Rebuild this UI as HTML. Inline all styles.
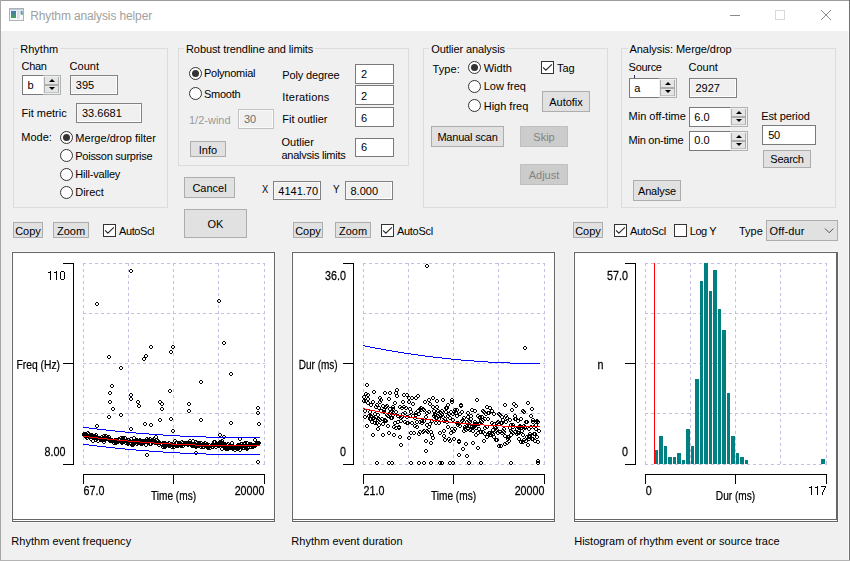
<!DOCTYPE html>
<html><head><meta charset="utf-8"><title>Rhythm analysis helper</title>
<style>
html,body{margin:0;padding:0;}
body{width:850px;height:561px;overflow:hidden;background:#f0f0f0;position:relative;font-family:"Liberation Sans",sans-serif;font-size:11px;color:#000;}
.t{position:absolute;white-space:nowrap;font-family:"Liberation Sans",sans-serif;}
.abs,.grp,.btn,.ed,.rad,.chk,.spin,.spined,.spb,.panel,.combo{position:absolute;box-sizing:border-box;}
.grp{border:1px solid #dcdcdc;}
.btn{background:#e1e1e1;border:1px solid #adadad;text-align:center;font-size:11px;overflow:hidden;display:flex;align-items:center;justify-content:center;white-space:nowrap;}
.btn.dis{background:#cccccc;border-color:#bfbfbf;color:#838383;}
.ed{background:#fff;border:1px solid #7a7a7a;}
.ed.ro{background:#f0f0f0;border:1px solid #828282;box-shadow:inset -1px -1px 0 #fff, inset 1px 1px 0 #f7f7f7;}
.ed.di{background:#f0f0f0;border:1px solid #c2c2c2;box-shadow:inset 0 0 0 1px #fafafa;}
.rad{width:13px;height:13px;border:1px solid #333;border-radius:50%;background:#fff;}
.rad i{position:absolute;left:2px;top:2px;width:7px;height:7px;border-radius:50%;background:#333;display:block;}
.chk{width:13px;height:13px;border:1px solid #333;background:#fff;}
.spin{border:1px solid #adb2b5;background:#f0f0f0;}
.spined{position:absolute;box-sizing:border-box;background:#fff;border:1px solid #7a7a7a;border-right:none;}
.spb{background:#e5e5e5;border-left:1px solid #adadad;border-right:1px solid #adadad;}
.spb b{position:absolute;left:50%;top:50%;width:0;height:0;border-left:3px solid transparent;border-right:3px solid transparent;margin-left:-3px;}
.spb b.up{border-bottom:3.3px solid #000;margin-top:-1.6px;}
.spb b.dn{border-top:3.3px solid #000;margin-top:-1.8px;}
.panel{background:#fff;border:1px solid #666;box-shadow:0 0 0 1px #f6f6f6;}
.panel:after{content:'';position:absolute;left:0;right:0;bottom:1px;height:1px;background:#666;}
.combo{background:#e1e1e1;border:1px solid #adadad;}
svg{position:absolute;overflow:visible;}
svg.ch{will-change:transform;}
svg text{font-family:"Liberation Sans",sans-serif;stroke:#000;stroke-width:0.25px;}
</style></head><body>

<div class="abs" style="left:0;top:0;width:850px;height:31px;background:#fff"></div>
<div class="abs" style="left:0;top:0;width:850px;height:1px;background:#9c9c9c"></div>
<div class="abs" style="left:0;top:0;width:1px;height:561px;background:#a6a6a6"></div>
<div class="abs" style="left:849px;top:0;width:1px;height:561px;background:#707070"></div>
<div class="abs" style="left:848px;top:31px;width:1px;height:529px;background:#fafafa"></div>
<div class="abs" style="left:0;top:560px;width:850px;height:1px;background:#b4b4b4"></div>
<svg style="left:9px;top:8px" width="15" height="13" viewBox="0 0 15 13">
<rect x="0.5" y="0.5" width="14" height="12" fill="#f6f8fa" stroke="#a9b1b9"/>
<rect x="1" y="1" width="13" height="1.4" fill="#c3ccd6"/>
<rect x="2" y="3" width="5" height="1" fill="#4678b4"/><rect x="2" y="4" width="5" height="1" fill="#467fa6"/><rect x="2" y="5" width="5" height="1" fill="#468698"/><rect x="2" y="6" width="5" height="1" fill="#458d8a"/><rect x="2" y="7" width="5" height="1" fill="#45947c"/><rect x="2" y="8" width="5" height="1" fill="#459b6c"/><rect x="2" y="9" width="5" height="1" fill="#45a25c"/>
<rect x="8" y="3" width="2.6" height="8" fill="#dcdcdc"/>
<rect x="11.6" y="3" width="2" height="3.4" fill="#5d8fc0"/>
<rect x="12.4" y="5" width="1.2" height="2" fill="#69b06c"/>
</svg>
<span class="t" style="left:30.20px;top:9.54px;font-size:12px;line-height:12px;color:#a0a0a0;letter-spacing:-0.130px;">Rhythm analysis helper</span>
<svg style="left:700px;top:0" width="150" height="31" viewBox="0 0 150 31" shape-rendering="crispEdges">
<rect x="30" y="15" width="10" height="1" fill="#8a8a8a"/>
<rect x="75.5" y="10.5" width="9" height="9" fill="none" stroke="#d9d9d9"/>
<g shape-rendering="auto"><path d="M121 10 L131 20 M131 10 L121 20" stroke="#8a8a8a" stroke-width="1" fill="none"/></g>
</svg>
<div class="grp" style="left:13px;top:48px;width:155px;height:160px;"></div>
<span class="t" style="left:18.3px;top:42px;height:14px;line-height:14px;font-size:11px;background:#f0f0f0;padding:0 2px;letter-spacing:0px">Rhythm</span>
<span class="t" style="left:21.50px;top:60.99px;font-size:11px;line-height:11px;color:#000;letter-spacing:-0.300px;">Chan</span>
<span class="t" style="left:69.60px;top:60.99px;font-size:11px;line-height:11px;color:#000;">Count</span>
<div class="spin" style="left:22px;top:75px;width:39px;height:20px;"></div>
<div class="spined" style="left:22px;top:75px;width:21px;height:20px"></div>
<div class="spb" style="left:44px;top:77px;width:15px;height:8px;border-bottom:1px solid #adadad"><b class="up"></b></div>
<div class="spb" style="left:44px;top:85px;width:15px;height:8px;border-top:1px solid #adadad;border-bottom:1px solid #c4c4c4"><b class="dn"></b></div>
<span class="t" style="left:27.50px;top:80.19px;font-size:11px;line-height:11px;color:#000;">b</span>
<div class="ed ro" style="left:70px;top:75px;width:48px;height:20px;"></div>
<span class="t" style="left:75.80px;top:80.19px;font-size:11px;line-height:11px;color:#000;">395</span>
<span class="t" style="left:21.50px;top:108.09px;font-size:11px;line-height:11px;color:#000;">Fit metric</span>
<div class="ed ro" style="left:76px;top:103px;width:66px;height:20px;"></div>
<span class="t" style="left:82.00px;top:108.09px;font-size:11px;line-height:11px;color:#000;">33.6681</span>
<span class="t" style="left:21.30px;top:132.49px;font-size:11px;line-height:11px;color:#000;">Mode:</span>
<div class="rad" style="left:59.5px;top:131.0px"><i></i></div>
<span class="t" style="left:75.30px;top:133.29px;font-size:11px;line-height:11px;color:#000;letter-spacing:0.030px;">Merge/drop filter</span>
<div class="rad" style="left:59.5px;top:149.2px"></div>
<span class="t" style="left:75.30px;top:150.69px;font-size:11px;line-height:11px;color:#000;letter-spacing:-0.270px;">Poisson surprise</span>
<div class="rad" style="left:59.5px;top:167.5px"></div>
<span class="t" style="left:75.30px;top:168.99px;font-size:11px;line-height:11px;color:#000;letter-spacing:-0.200px;">Hill-valley</span>
<div class="rad" style="left:59.5px;top:185.5px"></div>
<span class="t" style="left:75.30px;top:186.99px;font-size:11px;line-height:11px;color:#000;letter-spacing:-0.050px;">Direct</span>
<div class="grp" style="left:178px;top:48px;width:231px;height:118px;"></div>
<span class="t" style="left:184px;top:42px;height:14px;line-height:14px;font-size:11px;background:#f0f0f0;padding:0 2px;letter-spacing:-0.09px">Robust trendline and limits</span>
<div class="rad" style="left:188.8px;top:66.7px"><i></i></div>
<span class="t" style="left:204.00px;top:68.49px;font-size:11px;line-height:11px;color:#000;letter-spacing:-0.260px;">Polynomial</span>
<div class="rad" style="left:188.8px;top:87.3px"></div>
<span class="t" style="left:204.00px;top:88.99px;font-size:11px;line-height:11px;color:#000;letter-spacing:-0.250px;">Smooth</span>
<span class="t" style="left:189.00px;top:114.69px;font-size:11px;line-height:11px;color:#9a9a9a;">1/2-wind</span>
<div class="ed di" style="left:238px;top:109px;width:36px;height:20px;"></div>
<span class="t" style="left:244.00px;top:114.49px;font-size:11px;line-height:11px;color:#6d6d6d;">30</span>
<div class="btn" style="left:190px;top:141px;width:36px;height:16px;"><span style="letter-spacing:0px;position:relative;top:0.5px">Info</span></div>
<span class="t" style="left:282.30px;top:70.49px;font-size:11px;line-height:11px;color:#000;letter-spacing:-0.150px;">Poly degree</span>
<span class="t" style="left:282.30px;top:92.49px;font-size:11px;line-height:11px;color:#000;letter-spacing:0.200px;">Iterations</span>
<span class="t" style="left:282.30px;top:113.99px;font-size:11px;line-height:11px;color:#000;">Fit outlier</span>
<span class="t" style="left:281.50px;top:137.49px;font-size:11px;line-height:11px;color:#000;">Outlier</span>
<div class="abs" style="left:281px;top:150px;width:70px;height:9.1px;overflow:hidden"><span class="t" style="left:0.5px;top:0.4px;font-size:11px;line-height:11px;letter-spacing:-0.26px">analysis limits</span></div>
<div class="ed" style="left:355px;top:64px;width:39px;height:20px;"></div>
<span class="t" style="left:361.00px;top:68.99px;font-size:11px;line-height:11px;color:#000;">2</span>
<div class="ed" style="left:355px;top:85px;width:39px;height:20px;"></div>
<span class="t" style="left:361.00px;top:90.79px;font-size:11px;line-height:11px;color:#000;">2</span>
<div class="ed" style="left:355px;top:107px;width:39px;height:20px;"></div>
<span class="t" style="left:361.00px;top:112.79px;font-size:11px;line-height:11px;color:#000;">6</span>
<div class="ed" style="left:355px;top:138px;width:39px;height:19px;"></div>
<span class="t" style="left:361.00px;top:142.19px;font-size:11px;line-height:11px;color:#000;">6</span>
<div class="btn" style="left:184px;top:177px;width:51px;height:21px;"><span style="letter-spacing:0px;position:relative;top:0px">Cancel</span></div>
<div class="btn" style="left:184px;top:209px;width:63px;height:29px;"><span style="letter-spacing:0px;position:relative;top:0px">OK</span></div>
<span class="t" style="left:261.80px;top:184.19px;font-size:11px;line-height:11px;color:#000;transform-origin:0 9.31px;transform:scale(0.85,1);">X</span>
<div class="ed ro" style="left:273px;top:181px;width:48px;height:19px;"></div>
<span class="t" style="left:278.30px;top:186.19px;font-size:11px;line-height:11px;color:#000;">4141.70</span>
<span class="t" style="left:333.00px;top:184.19px;font-size:11px;line-height:11px;color:#000;transform-origin:0 9.31px;transform:scale(0.9,1);">Y</span>
<div class="ed ro" style="left:345px;top:181px;width:48px;height:19px;"></div>
<span class="t" style="left:350.50px;top:186.19px;font-size:11px;line-height:11px;color:#000;">8.000</span>
<div class="grp" style="left:423px;top:48px;width:185px;height:160px;"></div>
<span class="t" style="left:429.3px;top:42px;height:14px;line-height:14px;font-size:11px;background:#f0f0f0;padding:0 2px;letter-spacing:-0.1px">Outlier analysis</span>
<span class="t" style="left:432.50px;top:63.99px;font-size:11px;line-height:11px;color:#000;letter-spacing:0.100px;">Type:</span>
<div class="rad" style="left:468.0px;top:61.099999999999994px"><i></i></div>
<span class="t" style="left:483.70px;top:62.79px;font-size:11px;line-height:11px;color:#000;">Width</span>
<div class="rad" style="left:468.0px;top:79.5px"></div>
<span class="t" style="left:483.70px;top:80.99px;font-size:11px;line-height:11px;color:#000;">Low freq</span>
<div class="rad" style="left:468.0px;top:99.3px"></div>
<span class="t" style="left:483.70px;top:100.99px;font-size:11px;line-height:11px;color:#000;">High freq</span>
<div class="chk" style="left:541px;top:61px"><svg width="13" height="13" viewBox="0 0 13 13" style="position:absolute;left:-1px;top:-1px"><path d="M2.1 6.4 L4.8 9.2 L10.9 3.3" fill="none" stroke="#222" stroke-width="1.05"/></svg></div>
<span class="t" style="left:557.00px;top:62.99px;font-size:11px;line-height:11px;color:#000;">Tag</span>
<div class="btn" style="left:542px;top:91px;width:48px;height:21px;"><span style="letter-spacing:0px;position:relative;top:0.5px">Autofix</span></div>
<div class="btn" style="left:431px;top:126px;width:73px;height:21px;"><span style="letter-spacing:-0.2px;position:relative;top:0px">Manual scan</span></div>
<div class="btn dis" style="left:520px;top:126px;width:48px;height:21px;"><span style="letter-spacing:0px;position:relative;top:0px">Skip</span></div>
<div class="btn dis" style="left:520px;top:164px;width:48px;height:21px;"><span style="letter-spacing:0px;position:relative;top:0px">Adjust</span></div>
<div class="grp" style="left:621px;top:48px;width:215px;height:160px;"></div>
<span class="t" style="left:627.5px;top:42px;height:14px;line-height:14px;font-size:11px;background:#f0f0f0;padding:0 2px;letter-spacing:-0.06px">Analysis: Merge/drop</span>
<span class="t" style="left:628.60px;top:62.19px;font-size:11px;line-height:11px;color:#000;letter-spacing:-0.300px;">Source</span>
<span class="t" style="left:688.50px;top:62.19px;font-size:11px;line-height:11px;color:#000;">Count</span>
<div class="spin" style="left:629px;top:78px;width:48px;height:20px;"></div>
<div class="spined" style="left:629px;top:78px;width:30px;height:20px"></div>
<div class="spb" style="left:660px;top:80px;width:15px;height:8px;border-bottom:1px solid #adadad"><b class="up"></b></div>
<div class="spb" style="left:660px;top:88px;width:15px;height:8px;border-top:1px solid #adadad;border-bottom:1px solid #c4c4c4"><b class="dn"></b></div>
<span class="t" style="left:634.30px;top:83.19px;font-size:11px;line-height:11px;color:#000;">a</span>
<div class="abs" style="left:634px;top:75px;width:1px;height:3px;background:#2a2a55"></div>
<div class="ed ro" style="left:689px;top:78px;width:48px;height:20px;"></div>
<span class="t" style="left:695.50px;top:82.99px;font-size:11px;line-height:11px;color:#000;">2927</span>
<span class="t" style="left:628.60px;top:111.29px;font-size:11px;line-height:11px;color:#000;">Min off-time</span>
<div class="spin" style="left:689px;top:107px;width:59px;height:20px;"></div>
<div class="spined" style="left:689px;top:107px;width:41px;height:20px"></div>
<div class="spb" style="left:731px;top:109px;width:15px;height:8px;border-bottom:1px solid #adadad"><b class="up"></b></div>
<div class="spb" style="left:731px;top:117px;width:15px;height:8px;border-top:1px solid #adadad;border-bottom:1px solid #c4c4c4"><b class="dn"></b></div>
<span class="t" style="left:694.30px;top:111.69px;font-size:11px;line-height:11px;color:#000;">6.0</span>
<span class="t" style="left:628.60px;top:134.99px;font-size:11px;line-height:11px;color:#000;letter-spacing:-0.250px;">Min on-time</span>
<div class="spin" style="left:689px;top:131px;width:59px;height:20px;"></div>
<div class="spined" style="left:689px;top:131px;width:41px;height:20px"></div>
<div class="spb" style="left:731px;top:133px;width:15px;height:8px;border-bottom:1px solid #adadad"><b class="up"></b></div>
<div class="spb" style="left:731px;top:141px;width:15px;height:8px;border-top:1px solid #adadad;border-bottom:1px solid #c4c4c4"><b class="dn"></b></div>
<span class="t" style="left:694.30px;top:135.49px;font-size:11px;line-height:11px;color:#000;">0.0</span>
<span class="t" style="left:761.20px;top:111.29px;font-size:11px;line-height:11px;color:#000;letter-spacing:-0.100px;">Est period</span>
<div class="ed" style="left:762px;top:125px;width:54px;height:20px;"></div>
<span class="t" style="left:768.30px;top:130.19px;font-size:11px;line-height:11px;color:#000;letter-spacing:-0.300px;">50</span>
<div class="btn" style="left:763px;top:150px;width:48px;height:18px;"><span style="letter-spacing:-0.25px;position:relative;top:0px">Search</span></div>
<div class="btn" style="left:633px;top:180px;width:48px;height:21px;"><span style="letter-spacing:-0.15px;position:relative;top:0px">Analyse</span></div>
<div class="btn" style="left:13px;top:222px;width:30px;height:16px;"><span style="letter-spacing:0px;position:relative;top:0.5px">Copy</span></div>
<div class="btn" style="left:53px;top:222px;width:36px;height:16px;"><span style="letter-spacing:0px;position:relative;top:0.5px">Zoom</span></div>
<div class="chk" style="left:103px;top:224px"><svg width="13" height="13" viewBox="0 0 13 13" style="position:absolute;left:-1px;top:-1px"><path d="M2.1 6.4 L4.8 9.2 L10.9 3.3" fill="none" stroke="#222" stroke-width="1.05"/></svg></div>
<span class="t" style="left:119.00px;top:226.49px;font-size:11px;line-height:11px;color:#000;letter-spacing:-0.400px;">AutoScl</span>
<div class="btn" style="left:293px;top:222px;width:30px;height:16px;"><span style="letter-spacing:0px;position:relative;top:0.5px">Copy</span></div>
<div class="btn" style="left:335px;top:222px;width:36px;height:16px;"><span style="letter-spacing:0px;position:relative;top:0.5px">Zoom</span></div>
<div class="chk" style="left:381px;top:224px"><svg width="13" height="13" viewBox="0 0 13 13" style="position:absolute;left:-1px;top:-1px"><path d="M2.1 6.4 L4.8 9.2 L10.9 3.3" fill="none" stroke="#222" stroke-width="1.05"/></svg></div>
<span class="t" style="left:397.00px;top:226.49px;font-size:11px;line-height:11px;color:#000;letter-spacing:-0.300px;">AutoScl</span>
<div class="btn" style="left:573px;top:222px;width:30px;height:16px;"><span style="letter-spacing:0px;position:relative;top:0.5px">Copy</span></div>
<div class="chk" style="left:614px;top:224px"><svg width="13" height="13" viewBox="0 0 13 13" style="position:absolute;left:-1px;top:-1px"><path d="M2.1 6.4 L4.8 9.2 L10.9 3.3" fill="none" stroke="#222" stroke-width="1.05"/></svg></div>
<span class="t" style="left:630.00px;top:226.49px;font-size:11px;line-height:11px;color:#000;letter-spacing:-0.300px;">AutoScl</span>
<div class="chk" style="left:674px;top:224px"></div>
<span class="t" style="left:689.70px;top:226.49px;font-size:11px;line-height:11px;color:#000;letter-spacing:-0.400px;">Log Y</span>
<span class="t" style="left:739.00px;top:226.49px;font-size:11px;line-height:11px;color:#000;">Type</span>
<div class="combo" style="left:766px;top:220px;width:72px;height:21px;"></div>
<span class="t" style="left:769.60px;top:226.49px;font-size:11px;line-height:11px;color:#000;letter-spacing:0.150px;">Off-dur</span>
<svg style="left:824px;top:227px" width="11" height="8" viewBox="0 0 11 8"><path d="M1 1.5 L5.2 5.7 L9.4 1.5" fill="none" stroke="#505050" stroke-width="1"/></svg>
<div class="panel" style="left:12px;top:252px;width:263px;height:270px;"></div>
<div class="panel" style="left:292px;top:252px;width:263px;height:270px;"></div>
<div class="panel" style="left:574px;top:252px;width:264px;height:270px;"></div>
<div class="abs" style="left:836px;top:252px;width:1px;height:268px;background:#666"></div>
<span class="t" style="left:11.30px;top:536.49px;font-size:11px;line-height:11px;color:#000;letter-spacing:0.030px;">Rhythm event frequency</span>
<span class="t" style="left:291.30px;top:536.49px;font-size:11px;line-height:11px;color:#000;letter-spacing:0.030px;">Rhythm event duration</span>
<span class="t" style="left:574.20px;top:536.49px;font-size:11px;line-height:11px;color:#000;">Histogram of rhythm event or source trace</span>
<svg class="ch" style="left:0;top:0" width="850" height="561" viewBox="0 0 850 561"><g shape-rendering="crispEdges"><line x1="83.5" y1="263" x2="83.5" y2="465" stroke="#c0c0e4" stroke-dasharray="3 3"/><line x1="128.5" y1="263" x2="128.5" y2="465" stroke="#c0c0e4" stroke-dasharray="3 3"/><line x1="173.5" y1="263" x2="173.5" y2="465" stroke="#c0c0e4" stroke-dasharray="3 3"/><line x1="218.5" y1="263" x2="218.5" y2="465" stroke="#c0c0e4" stroke-dasharray="3 3"/><line x1="264.5" y1="263" x2="264.5" y2="465" stroke="#c0c0e4" stroke-dasharray="3 3"/><line x1="83" y1="263.5" x2="265" y2="263.5" stroke="#c0c0e4" stroke-dasharray="3 3"/><line x1="83" y1="313.5" x2="265" y2="313.5" stroke="#c0c0e4" stroke-dasharray="3 3"/><line x1="83" y1="363.5" x2="265" y2="363.5" stroke="#c0c0e4" stroke-dasharray="3 3"/><line x1="83" y1="413.5" x2="265" y2="413.5" stroke="#c0c0e4" stroke-dasharray="3 3"/><line x1="83" y1="464.5" x2="265" y2="464.5" stroke="#c0c0e4" stroke-dasharray="3 3"/></g><g stroke="#000" fill="none" shape-rendering="crispEdges"><line x1="73.5" y1="263" x2="73.5" y2="465"/><line x1="63" y1="263.5" x2="74" y2="263.5"/><line x1="63" y1="363.5" x2="74" y2="363.5"/><line x1="63" y1="464.5" x2="74" y2="464.5"/><line x1="83" y1="474.5" x2="265" y2="474.5"/><line x1="83.5" y1="474" x2="83.5" y2="484"/><line x1="173.5" y1="474" x2="173.5" y2="484"/><line x1="264.5" y1="474" x2="264.5" y2="484"/></g><g fill="#000" shape-rendering="crispEdges"><rect x="50" y="271" width="1" height="9"/><rect x="48" y="272" width="2" height="1"/><rect x="56" y="271" width="1" height="9"/><rect x="54" y="272" width="2" height="1"/><rect x="61" y="271" width="3" height="1"/><rect x="60" y="272" width="1" height="7"/><rect x="64" y="272" width="1" height="7"/><rect x="61" y="279" width="3" height="1"/></g><text x="0" y="0" font-size="12.5" text-anchor="start" transform="translate(16.5,369) scale(0.825,1)" fill="#000">Freq (Hz)</text><text x="0" y="0" font-size="12.5" text-anchor="end" transform="translate(65.5,456) scale(0.86,1)" fill="#000">8.00</text><text x="0" y="0" font-size="12.5" text-anchor="start" transform="translate(83.5,495) scale(0.86,1)" fill="#000">67.0</text><text x="0" y="0" font-size="12.5" text-anchor="end" transform="translate(264.5,495) scale(0.86,1)" fill="#000">20000</text><text x="0" y="0" font-size="12.5" text-anchor="middle" transform="translate(173.5,500) scale(0.81,1)" fill="#000">Time (ms)</text><path fill="none" stroke="#000" stroke-width="1" shape-rendering="crispEdges" d="M130 269.5h2M129.5 270v2M132.5 270v2M130 272.5h2M96 302.5h2M95.5 303v2M98.5 303v2M96 305.5h2M218 299.5h2M217.5 300v2M220.5 300v2M218 302.5h2M223 341.5h2M222.5 342v2M225.5 342v2M223 344.5h2M150 345.5h2M149.5 346v2M152.5 346v2M150 348.5h2M172 345.5h2M171.5 346v2M174.5 346v2M172 348.5h2M170 350.5h2M169.5 351v2M172.5 351v2M170 353.5h2M145 354.5h2M144.5 355v2M147.5 355v2M145 357.5h2M143 357.5h2M142.5 358v2M145.5 358v2M143 360.5h2M108 355.5h2M107.5 356v2M110.5 356v2M108 358.5h2M120 366.5h2M119.5 367v2M122.5 367v2M120 369.5h2M230 372.5h2M229.5 373v2M232.5 373v2M230 375.5h2M200 380.5h2M199.5 381v2M202.5 381v2M200 383.5h2M111 384.5h2M110.5 385v2M113.5 385v2M111 387.5h2M109 391.5h2M108.5 392v2M111.5 392v2M109 394.5h2M169 389.5h2M168.5 390v2M171.5 390v2M169 392.5h2M130 393.5h2M129.5 394v2M132.5 394v2M130 396.5h2M130 397.5h2M129.5 398v2M132.5 398v2M130 400.5h2M109 400.5h2M108.5 401v2M111.5 401v2M109 403.5h2M112 407.5h2M111.5 408v2M114.5 408v2M112 410.5h2M108 415.5h2M107.5 416v2M110.5 416v2M108 418.5h2M120 413.5h2M119.5 414v2M122.5 414v2M120 416.5h2M96 424.5h2M95.5 425v2M98.5 425v2M96 427.5h2M137 400.5h2M136.5 401v2M139.5 401v2M137 403.5h2M138 404.5h2M137.5 405v2M140.5 405v2M138 407.5h2M130 427.5h2M129.5 428v2M132.5 428v2M130 430.5h2M144 422.5h2M143.5 423v2M146.5 423v2M144 425.5h2M150 423.5h2M149.5 424v2M152.5 424v2M150 426.5h2M159 418.5h2M158.5 419v2M161.5 419v2M159 421.5h2M159 400.5h2M158.5 401v2M161.5 401v2M159 403.5h2M161 402.5h2M160.5 403v2M163.5 403v2M161 405.5h2M161 407.5h2M160.5 408v2M163.5 408v2M161 410.5h2M170 417.5h2M169.5 418v2M172.5 418v2M170 420.5h2M172 429.5h2M171.5 430v2M174.5 430v2M172 432.5h2M188 402.5h2M187.5 403v2M190.5 403v2M188 405.5h2M188 409.5h2M187.5 410v2M190.5 410v2M188 412.5h2M200 418.5h2M199.5 419v2M202.5 419v2M200 421.5h2M230 421.5h2M229.5 422v2M232.5 422v2M230 424.5h2M219 433.5h2M218.5 434v2M221.5 434v2M219 436.5h2M223 435.5h2M222.5 436v2M225.5 436v2M223 438.5h2M239 437.5h2M238.5 438v2M241.5 438v2M239 440.5h2M257 406.5h2M256.5 407v2M259.5 407v2M257 409.5h2M257 411.5h2M256.5 412v2M259.5 412v2M257 414.5h2M258 422.5h2M257.5 423v2M260.5 423v2M258 425.5h2M146 453.5h2M145.5 454v2M148.5 454v2M146 456.5h2M195 451.5h2M194.5 452v2M197.5 452v2M195 454.5h2M257 460.5h2M256.5 461v2M259.5 461v2M257 463.5h2M83 433.5h2M82.5 434v2M85.5 434v2M83 436.5h2M83 433.5h2M82.5 434v2M85.5 434v2M83 436.5h2M83 432.5h2M82.5 433v2M85.5 433v2M83 435.5h2M84 433.5h2M83.5 434v2M86.5 434v2M84 436.5h2M84 433.5h2M83.5 434v2M86.5 434v2M84 436.5h2M84 432.5h2M83.5 433v2M86.5 433v2M84 435.5h2M85 435.5h2M84.5 436v2M87.5 436v2M85 438.5h2M85 432.5h2M84.5 433v2M87.5 433v2M85 435.5h2M86 436.5h2M85.5 437v2M88.5 437v2M86 439.5h2M86 434.5h2M85.5 435v2M88.5 435v2M86 437.5h2M86 434.5h2M85.5 435v2M88.5 435v2M86 437.5h2M87 434.5h2M86.5 435v2M89.5 435v2M87 437.5h2M87 431.5h2M86.5 432v2M89.5 432v2M87 434.5h2M88 432.5h2M87.5 433v2M90.5 433v2M88 435.5h2M88 434.5h2M87.5 435v2M90.5 435v2M88 437.5h2M89 434.5h2M88.5 435v2M91.5 435v2M89 437.5h2M89 433.5h2M88.5 434v2M91.5 434v2M89 436.5h2M90 435.5h2M89.5 436v2M92.5 436v2M90 438.5h2M90 434.5h2M89.5 435v2M92.5 435v2M90 437.5h2M90 437.5h2M89.5 438v2M92.5 438v2M90 440.5h2M91 433.5h2M90.5 434v2M93.5 434v2M91 436.5h2M91 434.5h2M90.5 435v2M93.5 435v2M91 437.5h2M92 434.5h2M91.5 435v2M94.5 435v2M92 437.5h2M92 439.5h2M91.5 440v2M94.5 440v2M92 442.5h2M93 435.5h2M92.5 436v2M95.5 436v2M93 438.5h2M93 435.5h2M92.5 436v2M95.5 436v2M93 438.5h2M93 434.5h2M92.5 435v2M95.5 435v2M93 437.5h2M94 434.5h2M93.5 435v2M96.5 435v2M94 437.5h2M95 435.5h2M94.5 436v2M97.5 436v2M95 438.5h2M95 438.5h2M94.5 439v2M97.5 439v2M95 441.5h2M95 433.5h2M94.5 434v2M97.5 434v2M95 436.5h2M96 437.5h2M95.5 438v2M98.5 438v2M96 440.5h2M96 436.5h2M95.5 437v2M98.5 437v2M96 439.5h2M97 436.5h2M96.5 437v2M99.5 437v2M97 439.5h2M97 439.5h2M96.5 440v2M99.5 440v2M97 442.5h2M97 436.5h2M96.5 437v2M99.5 437v2M97 439.5h2M98 436.5h2M97.5 437v2M100.5 437v2M98 439.5h2M98 436.5h2M97.5 437v2M100.5 437v2M98 439.5h2M99 437.5h2M98.5 438v2M101.5 438v2M99 440.5h2M100 437.5h2M99.5 438v2M102.5 438v2M100 440.5h2M100 437.5h2M99.5 438v2M102.5 438v2M100 440.5h2M100 438.5h2M99.5 439v2M102.5 439v2M100 441.5h2M101 435.5h2M100.5 436v2M103.5 436v2M101 438.5h2M101 437.5h2M100.5 438v2M103.5 438v2M101 440.5h2M102 438.5h2M101.5 439v2M104.5 439v2M102 441.5h2M102 436.5h2M101.5 437v2M104.5 437v2M102 439.5h2M103 440.5h2M102.5 441v2M105.5 441v2M103 443.5h2M103 434.5h2M102.5 435v2M105.5 435v2M103 437.5h2M103 437.5h2M102.5 438v2M105.5 438v2M103 440.5h2M104 438.5h2M103.5 439v2M106.5 439v2M104 441.5h2M105 437.5h2M104.5 438v2M107.5 438v2M105 440.5h2M105 437.5h2M104.5 438v2M107.5 438v2M105 440.5h2M105 434.5h2M104.5 435v2M107.5 435v2M105 437.5h2M106 436.5h2M105.5 437v2M108.5 437v2M106 439.5h2M106 436.5h2M105.5 437v2M108.5 437v2M106 439.5h2M107 436.5h2M106.5 437v2M109.5 437v2M107 439.5h2M108 438.5h2M107.5 439v2M110.5 439v2M108 441.5h2M108 435.5h2M107.5 436v2M110.5 436v2M108 438.5h2M108 437.5h2M107.5 438v2M110.5 438v2M108 440.5h2M109 439.5h2M108.5 440v2M111.5 440v2M109 442.5h2M109 439.5h2M108.5 440v2M111.5 440v2M109 442.5h2M110 439.5h2M109.5 440v2M112.5 440v2M110 442.5h2M110 438.5h2M109.5 439v2M112.5 439v2M110 441.5h2M111 438.5h2M110.5 439v2M113.5 439v2M111 441.5h2M111 438.5h2M110.5 439v2M113.5 439v2M111 441.5h2M112 439.5h2M111.5 440v2M114.5 440v2M112 442.5h2M112 439.5h2M111.5 440v2M114.5 440v2M112 442.5h2M113 439.5h2M112.5 440v2M115.5 440v2M113 442.5h2M113 441.5h2M112.5 442v2M115.5 442v2M113 444.5h2M114 440.5h2M113.5 441v2M116.5 441v2M114 443.5h2M114 438.5h2M113.5 439v2M116.5 439v2M114 441.5h2M114 438.5h2M113.5 439v2M116.5 439v2M114 441.5h2M115 438.5h2M114.5 439v2M117.5 439v2M115 441.5h2M115 441.5h2M114.5 442v2M117.5 442v2M115 444.5h2M116 440.5h2M115.5 441v2M118.5 441v2M116 443.5h2M116 438.5h2M115.5 439v2M118.5 439v2M116 441.5h2M117 440.5h2M116.5 441v2M119.5 441v2M117 443.5h2M118 438.5h2M117.5 439v2M120.5 439v2M118 441.5h2M118 438.5h2M117.5 439v2M120.5 439v2M118 441.5h2M118 437.5h2M117.5 438v2M120.5 438v2M118 440.5h2M119 438.5h2M118.5 439v2M121.5 439v2M119 441.5h2M120 436.5h2M119.5 437v2M122.5 437v2M120 439.5h2M120 439.5h2M119.5 440v2M122.5 440v2M120 442.5h2M121 441.5h2M120.5 442v2M123.5 442v2M121 444.5h2M121 440.5h2M120.5 441v2M123.5 441v2M121 443.5h2M122 436.5h2M121.5 437v2M124.5 437v2M122 439.5h2M122 437.5h2M121.5 438v2M124.5 438v2M122 440.5h2M122 439.5h2M121.5 440v2M124.5 440v2M122 442.5h2M123 439.5h2M122.5 440v2M125.5 440v2M123 442.5h2M123 440.5h2M122.5 441v2M125.5 441v2M123 443.5h2M124 436.5h2M123.5 437v2M126.5 437v2M124 439.5h2M125 441.5h2M124.5 442v2M127.5 442v2M125 444.5h2M125 439.5h2M124.5 440v2M127.5 440v2M125 442.5h2M125 441.5h2M124.5 442v2M127.5 442v2M125 444.5h2M126 440.5h2M125.5 441v2M128.5 441v2M126 443.5h2M127 442.5h2M126.5 443v2M129.5 443v2M127 445.5h2M127 438.5h2M126.5 439v2M129.5 439v2M127 441.5h2M127 441.5h2M126.5 442v2M129.5 442v2M127 444.5h2M128 438.5h2M127.5 439v2M130.5 439v2M128 441.5h2M128 438.5h2M127.5 439v2M130.5 439v2M128 441.5h2M129 439.5h2M128.5 440v2M131.5 440v2M129 442.5h2M129 441.5h2M128.5 442v2M131.5 442v2M129 444.5h2M130 442.5h2M129.5 443v2M132.5 443v2M130 445.5h2M130 437.5h2M129.5 438v2M132.5 438v2M130 440.5h2M131 443.5h2M130.5 444v2M133.5 444v2M131 446.5h2M131 440.5h2M130.5 441v2M133.5 441v2M131 443.5h2M132 442.5h2M131.5 443v2M134.5 443v2M132 445.5h2M132 443.5h2M131.5 444v2M134.5 444v2M132 446.5h2M133 442.5h2M132.5 443v2M135.5 443v2M133 445.5h2M133 436.5h2M132.5 437v2M135.5 437v2M133 439.5h2M134 439.5h2M133.5 440v2M136.5 440v2M134 442.5h2M134 440.5h2M133.5 441v2M136.5 441v2M134 443.5h2M135 439.5h2M134.5 440v2M137.5 440v2M135 442.5h2M136 439.5h2M135.5 440v2M138.5 440v2M136 442.5h2M136 442.5h2M135.5 443v2M138.5 443v2M136 445.5h2M136 438.5h2M135.5 439v2M138.5 439v2M136 441.5h2M137 440.5h2M136.5 441v2M139.5 441v2M137 443.5h2M137 441.5h2M136.5 442v2M139.5 442v2M137 444.5h2M138 439.5h2M137.5 440v2M140.5 440v2M138 442.5h2M139 440.5h2M138.5 441v2M141.5 441v2M139 443.5h2M139 438.5h2M138.5 439v2M141.5 439v2M139 441.5h2M140 441.5h2M139.5 442v2M142.5 442v2M140 444.5h2M140 442.5h2M139.5 443v2M142.5 443v2M140 445.5h2M140 439.5h2M139.5 440v2M142.5 440v2M140 442.5h2M141 442.5h2M140.5 443v2M143.5 443v2M141 445.5h2M141 440.5h2M140.5 441v2M143.5 441v2M141 443.5h2M142 441.5h2M141.5 442v2M144.5 442v2M142 444.5h2M142 439.5h2M141.5 440v2M144.5 440v2M142 442.5h2M143 439.5h2M142.5 440v2M145.5 440v2M143 442.5h2M143 440.5h2M142.5 441v2M145.5 441v2M143 443.5h2M144 440.5h2M143.5 441v2M146.5 441v2M144 443.5h2M144 440.5h2M143.5 441v2M146.5 441v2M144 443.5h2M145 440.5h2M144.5 441v2M147.5 441v2M145 443.5h2M145 443.5h2M144.5 444v2M147.5 444v2M145 446.5h2M146 440.5h2M145.5 441v2M148.5 441v2M146 443.5h2M146 437.5h2M145.5 438v2M148.5 438v2M146 440.5h2M147 438.5h2M146.5 439v2M149.5 439v2M147 441.5h2M148 440.5h2M147.5 441v2M150.5 441v2M148 443.5h2M148 438.5h2M147.5 439v2M150.5 439v2M148 441.5h2M149 439.5h2M148.5 440v2M151.5 440v2M149 442.5h2M149 442.5h2M148.5 443v2M151.5 443v2M149 445.5h2M149 437.5h2M148.5 438v2M151.5 438v2M149 440.5h2M150 442.5h2M149.5 443v2M152.5 443v2M150 445.5h2M150 439.5h2M149.5 440v2M152.5 440v2M150 442.5h2M151 439.5h2M150.5 440v2M153.5 440v2M151 442.5h2M151 440.5h2M150.5 441v2M153.5 441v2M151 443.5h2M152 438.5h2M151.5 439v2M154.5 439v2M152 441.5h2M153 437.5h2M152.5 438v2M155.5 438v2M153 440.5h2M153 439.5h2M152.5 440v2M155.5 440v2M153 442.5h2M153 437.5h2M152.5 438v2M155.5 438v2M153 440.5h2M154 441.5h2M153.5 442v2M156.5 442v2M154 444.5h2M155 440.5h2M154.5 441v2M157.5 441v2M155 443.5h2M155 435.5h2M154.5 436v2M157.5 436v2M155 438.5h2M156 441.5h2M155.5 442v2M158.5 442v2M156 444.5h2M156 438.5h2M155.5 439v2M158.5 439v2M156 441.5h2M157 441.5h2M156.5 442v2M159.5 442v2M157 444.5h2M157 439.5h2M156.5 440v2M159.5 440v2M157 442.5h2M158 443.5h2M157.5 444v2M160.5 444v2M158 446.5h2M158 441.5h2M157.5 442v2M160.5 442v2M158 444.5h2M159 441.5h2M158.5 442v2M161.5 442v2M159 444.5h2M159 441.5h2M158.5 442v2M161.5 442v2M159 444.5h2M160 442.5h2M159.5 443v2M162.5 443v2M160 445.5h2M160 442.5h2M159.5 443v2M162.5 443v2M160 445.5h2M161 442.5h2M160.5 443v2M163.5 443v2M161 445.5h2M161 442.5h2M160.5 443v2M163.5 443v2M161 445.5h2M162 441.5h2M161.5 442v2M164.5 442v2M162 444.5h2M162 445.5h2M161.5 446v2M164.5 446v2M162 448.5h2M163 441.5h2M162.5 442v2M165.5 442v2M163 444.5h2M163 444.5h2M162.5 445v2M165.5 445v2M163 447.5h2M164 441.5h2M163.5 442v2M166.5 442v2M164 444.5h2M164 445.5h2M163.5 446v2M166.5 446v2M164 448.5h2M165 443.5h2M164.5 444v2M167.5 444v2M165 446.5h2M165 444.5h2M164.5 445v2M167.5 445v2M165 447.5h2M166 442.5h2M165.5 443v2M168.5 443v2M166 445.5h2M166 443.5h2M165.5 444v2M168.5 444v2M166 446.5h2M167 442.5h2M166.5 443v2M169.5 443v2M167 445.5h2M168 441.5h2M167.5 442v2M170.5 442v2M168 444.5h2M168 444.5h2M167.5 445v2M170.5 445v2M168 447.5h2M169 444.5h2M168.5 445v2M171.5 445v2M169 447.5h2M169 444.5h2M168.5 445v2M171.5 445v2M169 447.5h2M169 443.5h2M168.5 444v2M171.5 444v2M169 446.5h2M170 443.5h2M169.5 444v2M172.5 444v2M170 446.5h2M171 442.5h2M170.5 443v2M173.5 443v2M171 445.5h2M171 445.5h2M170.5 446v2M173.5 446v2M171 448.5h2M172 443.5h2M171.5 444v2M174.5 444v2M172 446.5h2M172 444.5h2M171.5 445v2M174.5 445v2M172 447.5h2M173 445.5h2M172.5 446v2M175.5 446v2M173 448.5h2M173 443.5h2M172.5 444v2M175.5 444v2M173 446.5h2M174 439.5h2M173.5 440v2M176.5 440v2M174 442.5h2M174 443.5h2M173.5 444v2M176.5 444v2M174 446.5h2M175 441.5h2M174.5 442v2M177.5 442v2M175 444.5h2M176 444.5h2M175.5 445v2M178.5 445v2M176 447.5h2M176 441.5h2M175.5 442v2M178.5 442v2M176 444.5h2M177 443.5h2M176.5 444v2M179.5 444v2M177 446.5h2M177 444.5h2M176.5 445v2M179.5 445v2M177 447.5h2M178 441.5h2M177.5 442v2M180.5 442v2M178 444.5h2M178 443.5h2M177.5 444v2M180.5 444v2M178 446.5h2M178 443.5h2M177.5 444v2M180.5 444v2M178 446.5h2M179 443.5h2M178.5 444v2M181.5 444v2M179 446.5h2M179 442.5h2M178.5 443v2M181.5 443v2M179 445.5h2M180 444.5h2M179.5 445v2M182.5 445v2M180 447.5h2M181 440.5h2M180.5 441v2M183.5 441v2M181 443.5h2M181 443.5h2M180.5 444v2M183.5 444v2M181 446.5h2M182 444.5h2M181.5 445v2M184.5 445v2M182 447.5h2M182 441.5h2M181.5 442v2M184.5 442v2M182 444.5h2M183 442.5h2M182.5 443v2M185.5 443v2M183 445.5h2M184 441.5h2M183.5 442v2M186.5 442v2M184 444.5h2M184 442.5h2M183.5 443v2M186.5 443v2M184 445.5h2M184 442.5h2M183.5 443v2M186.5 443v2M184 445.5h2M185 442.5h2M184.5 443v2M187.5 443v2M185 445.5h2M185 441.5h2M184.5 442v2M187.5 442v2M185 444.5h2M186 442.5h2M185.5 443v2M188.5 443v2M186 445.5h2M186 441.5h2M185.5 442v2M188.5 442v2M186 444.5h2M187 442.5h2M186.5 443v2M189.5 443v2M187 445.5h2M187 443.5h2M186.5 444v2M189.5 444v2M187 446.5h2M188 442.5h2M187.5 443v2M190.5 443v2M188 445.5h2M189 439.5h2M188.5 440v2M191.5 440v2M189 442.5h2M189 441.5h2M188.5 442v2M191.5 442v2M189 444.5h2M190 443.5h2M189.5 444v2M192.5 444v2M190 446.5h2M190 441.5h2M189.5 442v2M192.5 442v2M190 444.5h2M191 443.5h2M190.5 444v2M193.5 444v2M191 446.5h2M191 444.5h2M190.5 445v2M193.5 445v2M191 447.5h2M192 444.5h2M191.5 445v2M194.5 445v2M192 447.5h2M192 439.5h2M191.5 440v2M194.5 440v2M192 442.5h2M193 443.5h2M192.5 444v2M195.5 444v2M193 446.5h2M193 442.5h2M192.5 443v2M195.5 443v2M193 445.5h2M194 444.5h2M193.5 445v2M196.5 445v2M194 447.5h2M195 440.5h2M194.5 441v2M197.5 441v2M195 443.5h2M195 445.5h2M194.5 446v2M197.5 446v2M195 448.5h2M196 441.5h2M195.5 442v2M198.5 442v2M196 444.5h2M196 444.5h2M195.5 445v2M198.5 445v2M196 447.5h2M196 443.5h2M195.5 444v2M198.5 444v2M196 446.5h2M197 444.5h2M196.5 445v2M199.5 445v2M197 447.5h2M198 441.5h2M197.5 442v2M200.5 442v2M198 444.5h2M198 442.5h2M197.5 443v2M200.5 443v2M198 445.5h2M198 441.5h2M197.5 442v2M200.5 442v2M198 444.5h2M199 443.5h2M198.5 444v2M201.5 444v2M199 446.5h2M200 441.5h2M199.5 442v2M202.5 442v2M200 444.5h2M200 445.5h2M199.5 446v2M202.5 446v2M200 448.5h2M201 444.5h2M200.5 445v2M203.5 445v2M201 447.5h2M201 443.5h2M200.5 444v2M203.5 444v2M201 446.5h2M202 445.5h2M201.5 446v2M204.5 446v2M202 448.5h2M203 445.5h2M202.5 446v2M205.5 446v2M203 448.5h2M203 443.5h2M202.5 444v2M205.5 444v2M203 446.5h2M203 442.5h2M202.5 443v2M205.5 443v2M203 445.5h2M204 441.5h2M203.5 442v2M206.5 442v2M204 444.5h2M205 444.5h2M204.5 445v2M207.5 445v2M205 447.5h2M205 443.5h2M204.5 444v2M207.5 444v2M205 446.5h2M206 442.5h2M205.5 443v2M208.5 443v2M206 445.5h2M206 445.5h2M205.5 446v2M208.5 446v2M206 448.5h2M206 443.5h2M205.5 444v2M208.5 444v2M206 446.5h2M207 446.5h2M206.5 447v2M209.5 447v2M207 449.5h2M208 443.5h2M207.5 444v2M210.5 444v2M208 446.5h2M208 445.5h2M207.5 446v2M210.5 446v2M208 448.5h2M209 446.5h2M208.5 447v2M211.5 447v2M209 449.5h2M209 446.5h2M208.5 447v2M211.5 447v2M209 449.5h2M210 444.5h2M209.5 445v2M212.5 445v2M210 447.5h2M210 444.5h2M209.5 445v2M212.5 445v2M210 447.5h2M211 445.5h2M210.5 446v2M213.5 446v2M211 448.5h2M211 443.5h2M210.5 444v2M213.5 444v2M211 446.5h2M212 445.5h2M211.5 446v2M214.5 446v2M212 448.5h2M213 443.5h2M212.5 444v2M215.5 444v2M213 446.5h2M213 440.5h2M212.5 441v2M215.5 441v2M213 443.5h2M213 443.5h2M212.5 444v2M215.5 444v2M213 446.5h2M214 440.5h2M213.5 441v2M216.5 441v2M214 443.5h2M215 443.5h2M214.5 444v2M217.5 444v2M215 446.5h2M215 445.5h2M214.5 446v2M217.5 446v2M215 448.5h2M216 442.5h2M215.5 443v2M218.5 443v2M216 445.5h2M216 442.5h2M215.5 443v2M218.5 443v2M216 445.5h2M217 443.5h2M216.5 444v2M219.5 444v2M217 446.5h2M217 443.5h2M216.5 444v2M219.5 444v2M217 446.5h2M218 444.5h2M217.5 445v2M220.5 445v2M218 447.5h2M218 443.5h2M217.5 444v2M220.5 444v2M218 446.5h2M219 440.5h2M218.5 441v2M221.5 441v2M219 443.5h2M220 442.5h2M219.5 443v2M222.5 443v2M220 445.5h2M220 440.5h2M219.5 441v2M222.5 441v2M220 443.5h2M221 439.5h2M220.5 440v2M223.5 440v2M221 442.5h2M221 447.5h2M220.5 448v2M223.5 448v2M221 450.5h2M222 442.5h2M221.5 443v2M224.5 443v2M222 445.5h2M222 444.5h2M221.5 445v2M224.5 445v2M222 447.5h2M223 444.5h2M222.5 445v2M225.5 445v2M223 447.5h2M224 442.5h2M223.5 443v2M226.5 443v2M224 445.5h2M224 443.5h2M223.5 444v2M226.5 444v2M224 446.5h2M224 445.5h2M223.5 446v2M226.5 446v2M224 448.5h2M225 447.5h2M224.5 448v2M227.5 448v2M225 450.5h2M226 443.5h2M225.5 444v2M228.5 444v2M226 446.5h2M226 447.5h2M225.5 448v2M228.5 448v2M226 450.5h2M227 442.5h2M226.5 443v2M229.5 443v2M227 445.5h2M227 447.5h2M226.5 448v2M229.5 448v2M227 450.5h2M228 445.5h2M227.5 446v2M230.5 446v2M228 448.5h2M228 444.5h2M227.5 445v2M230.5 445v2M228 447.5h2M229 444.5h2M228.5 445v2M231.5 445v2M229 447.5h2M230 446.5h2M229.5 447v2M232.5 447v2M230 449.5h2M230 446.5h2M229.5 447v2M232.5 447v2M230 449.5h2M230 445.5h2M229.5 446v2M232.5 446v2M230 448.5h2M231 441.5h2M230.5 442v2M233.5 442v2M231 444.5h2M232 444.5h2M231.5 445v2M234.5 445v2M232 447.5h2M232 447.5h2M231.5 448v2M234.5 448v2M232 450.5h2M232 446.5h2M231.5 447v2M234.5 447v2M232 449.5h2M233 446.5h2M232.5 447v2M235.5 447v2M233 449.5h2M234 446.5h2M233.5 447v2M236.5 447v2M234 449.5h2M234 448.5h2M233.5 449v2M236.5 449v2M234 451.5h2M235 445.5h2M234.5 446v2M237.5 446v2M235 448.5h2M235 446.5h2M234.5 447v2M237.5 447v2M235 449.5h2M236 446.5h2M235.5 447v2M238.5 447v2M236 449.5h2M236 445.5h2M235.5 446v2M238.5 446v2M236 448.5h2M237 447.5h2M236.5 448v2M239.5 448v2M237 450.5h2M237 443.5h2M236.5 444v2M239.5 444v2M237 446.5h2M238 443.5h2M237.5 444v2M240.5 444v2M238 446.5h2M238 444.5h2M237.5 445v2M240.5 445v2M238 447.5h2M239 444.5h2M238.5 445v2M241.5 445v2M239 447.5h2M239 448.5h2M238.5 449v2M241.5 449v2M239 451.5h2M240 442.5h2M239.5 443v2M242.5 443v2M240 445.5h2M241 442.5h2M240.5 443v2M243.5 443v2M241 445.5h2M241 444.5h2M240.5 445v2M243.5 445v2M241 447.5h2M242 446.5h2M241.5 447v2M244.5 447v2M242 449.5h2M243 446.5h2M242.5 447v2M245.5 447v2M243 449.5h2M243 442.5h2M242.5 443v2M245.5 443v2M243 445.5h2M243 444.5h2M242.5 445v2M245.5 445v2M243 447.5h2M244 441.5h2M243.5 442v2M246.5 442v2M244 444.5h2M245 446.5h2M244.5 447v2M247.5 447v2M245 449.5h2M245 444.5h2M244.5 445v2M247.5 445v2M245 447.5h2M246 447.5h2M245.5 448v2M248.5 448v2M246 450.5h2M246 441.5h2M245.5 442v2M248.5 442v2M246 444.5h2M247 445.5h2M246.5 446v2M249.5 446v2M247 448.5h2M247 446.5h2M246.5 447v2M249.5 447v2M247 449.5h2M248 443.5h2M247.5 444v2M250.5 444v2M248 446.5h2M249 442.5h2M248.5 443v2M251.5 443v2M249 445.5h2M249 443.5h2M248.5 444v2M251.5 444v2M249 446.5h2M250 443.5h2M249.5 444v2M252.5 444v2M250 446.5h2M250 445.5h2M249.5 446v2M252.5 446v2M250 448.5h2M250 442.5h2M249.5 443v2M252.5 443v2M250 445.5h2M251 443.5h2M250.5 444v2M253.5 444v2M251 446.5h2M252 445.5h2M251.5 446v2M254.5 446v2M252 448.5h2M252 444.5h2M251.5 445v2M254.5 445v2M252 447.5h2M253 443.5h2M252.5 444v2M255.5 444v2M253 446.5h2M253 443.5h2M252.5 444v2M255.5 444v2M253 446.5h2M254 444.5h2M253.5 445v2M256.5 445v2M254 447.5h2M254 438.5h2M253.5 439v2M256.5 439v2M254 441.5h2M255 443.5h2M254.5 444v2M257.5 444v2M255 446.5h2M256 441.5h2M255.5 442v2M258.5 442v2M256 444.5h2M256 442.5h2M255.5 443v2M258.5 443v2M256 445.5h2M257 442.5h2M256.5 443v2M259.5 443v2M257 445.5h2M257 441.5h2M256.5 442v2M259.5 442v2M257 444.5h2M258 441.5h2M257.5 442v2M260.5 442v2M258 444.5h2"/><path d="M83 427.5H89M89 428.5H97M97 429.5H106M106 430.5H115M115 431.5H125M125 432.5H136M136 433.5H149M149 434.5H163M163 435.5H180M180 436.5H206M206 437.5H260" fill="none" stroke="#0000ff" stroke-width="1" shape-rendering="crispEdges"/><path d="M83 444.5H89M89 445.5H97M97 446.5H106M106 447.5H115M115 448.5H125M125 449.5H136M136 450.5H149M149 451.5H163M163 452.5H180M180 453.5H206M206 454.5H260" fill="none" stroke="#0000ff" stroke-width="1" shape-rendering="crispEdges"/><path d="M83 436.5H89M89 437.5H98M98 438.5H107M107 439.5H117M117 440.5H128M128 441.5H140M140 442.5H154M154 443.5H171M171 444.5H195M195 445.5H260" fill="none" stroke="#ff0000" stroke-width="1" shape-rendering="crispEdges"/></svg>
<svg class="ch" style="left:0;top:0" width="850" height="561" viewBox="0 0 850 561"><g shape-rendering="crispEdges"><line x1="363.5" y1="263" x2="363.5" y2="465" stroke="#c0c0e4" stroke-dasharray="3 3"/><line x1="408.5" y1="263" x2="408.5" y2="465" stroke="#c0c0e4" stroke-dasharray="3 3"/><line x1="453.5" y1="263" x2="453.5" y2="465" stroke="#c0c0e4" stroke-dasharray="3 3"/><line x1="498.5" y1="263" x2="498.5" y2="465" stroke="#c0c0e4" stroke-dasharray="3 3"/><line x1="544.5" y1="263" x2="544.5" y2="465" stroke="#c0c0e4" stroke-dasharray="3 3"/><line x1="363" y1="263.5" x2="545" y2="263.5" stroke="#c0c0e4" stroke-dasharray="3 3"/><line x1="363" y1="313.5" x2="545" y2="313.5" stroke="#c0c0e4" stroke-dasharray="3 3"/><line x1="363" y1="363.5" x2="545" y2="363.5" stroke="#c0c0e4" stroke-dasharray="3 3"/><line x1="363" y1="413.5" x2="545" y2="413.5" stroke="#c0c0e4" stroke-dasharray="3 3"/><line x1="363" y1="464.5" x2="545" y2="464.5" stroke="#c0c0e4" stroke-dasharray="3 3"/></g><g stroke="#000" fill="none" shape-rendering="crispEdges"><line x1="353.5" y1="263" x2="353.5" y2="465"/><line x1="343" y1="263.5" x2="354" y2="263.5"/><line x1="343" y1="363.5" x2="354" y2="363.5"/><line x1="343" y1="464.5" x2="354" y2="464.5"/><line x1="363" y1="474.5" x2="545" y2="474.5"/><line x1="363.5" y1="474" x2="363.5" y2="484"/><line x1="453.5" y1="474" x2="453.5" y2="484"/><line x1="544.5" y1="474" x2="544.5" y2="484"/></g><text x="0" y="0" font-size="12.5" text-anchor="end" transform="translate(346,280) scale(0.86,1)" fill="#000">36.0</text><text x="0" y="0" font-size="12.5" text-anchor="start" transform="translate(298.8,369) scale(0.8,1)" fill="#000">Dur (ms)</text><text x="0" y="0" font-size="12.5" text-anchor="end" transform="translate(346,456) scale(0.86,1)" fill="#000">0</text><text x="0" y="0" font-size="12.5" text-anchor="start" transform="translate(363.5,495) scale(0.86,1)" fill="#000">21.0</text><text x="0" y="0" font-size="12.5" text-anchor="end" transform="translate(544.5,495) scale(0.86,1)" fill="#000">20000</text><text x="0" y="0" font-size="12.5" text-anchor="middle" transform="translate(453.5,500) scale(0.81,1)" fill="#000">Time (ms)</text><path fill="none" stroke="#000" stroke-width="1" shape-rendering="crispEdges" d="M426 264.5h2M425.5 265v2M428.5 265v2M426 267.5h2M524 346.5h2M523.5 347v2M526.5 347v2M524 349.5h2M376 461.5h2M375.5 462v2M378.5 462v2M376 464.5h2M388 461.5h2M387.5 462v2M390.5 462v2M388 464.5h2M391 461.5h2M390.5 462v2M393.5 462v2M391 464.5h2M410 461.5h2M409.5 462v2M412.5 462v2M410 464.5h2M418 461.5h2M417.5 462v2M420.5 462v2M418 464.5h2M423 461.5h2M422.5 462v2M425.5 462v2M423 464.5h2M430 461.5h2M429.5 462v2M432.5 462v2M430 464.5h2M439 461.5h2M438.5 462v2M441.5 462v2M439 464.5h2M441 461.5h2M440.5 462v2M443.5 462v2M441 464.5h2M449 461.5h2M448.5 462v2M451.5 462v2M449 464.5h2M452 461.5h2M451.5 462v2M454.5 462v2M452 464.5h2M468 461.5h2M467.5 462v2M470.5 462v2M468 464.5h2M480 461.5h2M479.5 462v2M482.5 462v2M480 464.5h2M510 461.5h2M509.5 462v2M512.5 462v2M510 464.5h2M537 459.5h2M536.5 460v2M539.5 460v2M537 462.5h2M537 461.5h2M536.5 462v2M539.5 462v2M537 464.5h2M363 395.5h2M362.5 396v2M365.5 396v2M363 398.5h2M363 399.5h2M362.5 400v2M365.5 400v2M363 402.5h2M364 415.5h2M363.5 416v2M366.5 416v2M364 418.5h2M364 409.5h2M363.5 410v2M366.5 410v2M364 412.5h2M365 399.5h2M364.5 400v2M367.5 400v2M365 402.5h2M365 392.5h2M364.5 393v2M367.5 393v2M365 395.5h2M366 383.5h2M365.5 384v2M368.5 384v2M366 386.5h2M366 424.5h2M365.5 425v2M368.5 425v2M366 427.5h2M367 393.5h2M366.5 394v2M369.5 394v2M367 396.5h2M367 401.5h2M366.5 402v2M369.5 402v2M367 404.5h2M367 397.5h2M366.5 398v2M369.5 398v2M367 400.5h2M368 414.5h2M367.5 415v2M370.5 415v2M368 417.5h2M369 417.5h2M368.5 418v2M371.5 418v2M369 420.5h2M369 410.5h2M368.5 411v2M371.5 411v2M369 413.5h2M370 417.5h2M369.5 418v2M372.5 418v2M370 420.5h2M370 414.5h2M369.5 415v2M372.5 415v2M370 417.5h2M370 403.5h2M369.5 404v2M372.5 404v2M370 406.5h2M371 420.5h2M370.5 421v2M373.5 421v2M371 423.5h2M371 415.5h2M370.5 416v2M373.5 416v2M371 418.5h2M372 433.5h2M371.5 434v2M374.5 434v2M372 436.5h2M372 400.5h2M371.5 401v2M374.5 401v2M372 403.5h2M373 416.5h2M372.5 417v2M375.5 417v2M373 419.5h2M373 390.5h2M372.5 391v2M375.5 391v2M373 393.5h2M374 421.5h2M373.5 422v2M376.5 422v2M374 424.5h2M374 412.5h2M373.5 413v2M376.5 413v2M374 415.5h2M374 418.5h2M373.5 419v2M376.5 419v2M374 421.5h2M375 415.5h2M374.5 416v2M377.5 416v2M375 418.5h2M375 405.5h2M374.5 406v2M377.5 406v2M375 408.5h2M376 403.5h2M375.5 404v2M378.5 404v2M376 406.5h2M376 421.5h2M375.5 422v2M378.5 422v2M376 424.5h2M377 427.5h2M376.5 428v2M379.5 428v2M377 430.5h2M377 413.5h2M376.5 414v2M379.5 414v2M377 416.5h2M378 417.5h2M377.5 418v2M380.5 418v2M378 420.5h2M378 423.5h2M377.5 424v2M380.5 424v2M378 426.5h2M378 406.5h2M377.5 407v2M380.5 407v2M378 409.5h2M379 396.5h2M378.5 397v2M381.5 397v2M379 399.5h2M379 400.5h2M378.5 401v2M381.5 401v2M379 403.5h2M379 418.5h2M378.5 419v2M381.5 419v2M379 421.5h2M380 409.5h2M379.5 410v2M382.5 410v2M380 412.5h2M380 398.5h2M379.5 399v2M382.5 399v2M380 401.5h2M381 417.5h2M380.5 418v2M383.5 418v2M381 420.5h2M382 404.5h2M381.5 405v2M384.5 405v2M382 407.5h2M382 422.5h2M381.5 423v2M384.5 423v2M382 425.5h2M382 433.5h2M381.5 434v2M384.5 434v2M382 436.5h2M383 410.5h2M382.5 411v2M385.5 411v2M383 413.5h2M383 408.5h2M382.5 409v2M385.5 409v2M383 411.5h2M384 391.5h2M383.5 392v2M386.5 392v2M384 394.5h2M384 419.5h2M383.5 420v2M386.5 420v2M384 422.5h2M384 418.5h2M383.5 419v2M386.5 419v2M384 421.5h2M385 419.5h2M384.5 420v2M387.5 420v2M385 422.5h2M385 405.5h2M384.5 406v2M387.5 406v2M385 408.5h2M386 413.5h2M385.5 414v2M388.5 414v2M386 416.5h2M386 404.5h2M385.5 405v2M388.5 405v2M386 407.5h2M387 424.5h2M386.5 425v2M389.5 425v2M387 427.5h2M387 414.5h2M386.5 415v2M389.5 415v2M387 417.5h2M388 397.5h2M387.5 398v2M390.5 398v2M388 400.5h2M388 431.5h2M387.5 432v2M390.5 432v2M388 434.5h2M388 412.5h2M387.5 413v2M390.5 413v2M388 415.5h2M389 391.5h2M388.5 392v2M391.5 392v2M389 394.5h2M389 407.5h2M388.5 408v2M391.5 408v2M389 410.5h2M390 410.5h2M389.5 411v2M392.5 411v2M390 413.5h2M390 416.5h2M389.5 417v2M392.5 417v2M390 419.5h2M391 409.5h2M390.5 410v2M393.5 410v2M391 412.5h2M391 416.5h2M390.5 417v2M393.5 417v2M391 419.5h2M392 407.5h2M391.5 408v2M394.5 408v2M392 410.5h2M392 413.5h2M391.5 414v2M394.5 414v2M392 416.5h2M392 405.5h2M391.5 406v2M394.5 406v2M392 408.5h2M393 425.5h2M392.5 426v2M395.5 426v2M393 428.5h2M393 433.5h2M392.5 434v2M395.5 434v2M393 436.5h2M394 421.5h2M393.5 422v2M396.5 422v2M394 424.5h2M394 401.5h2M393.5 402v2M396.5 402v2M394 404.5h2M395 426.5h2M394.5 427v2M397.5 427v2M395 429.5h2M395 410.5h2M394.5 411v2M397.5 411v2M395 413.5h2M395 391.5h2M394.5 392v2M397.5 392v2M395 394.5h2M396 394.5h2M395.5 395v2M398.5 395v2M396 397.5h2M396 388.5h2M395.5 389v2M398.5 389v2M396 391.5h2M397 420.5h2M396.5 421v2M399.5 421v2M397 423.5h2M397 414.5h2M396.5 415v2M399.5 415v2M397 417.5h2M398 426.5h2M397.5 427v2M400.5 427v2M398 429.5h2M398 425.5h2M397.5 426v2M400.5 426v2M398 428.5h2M399 435.5h2M398.5 436v2M401.5 436v2M399 438.5h2M399 405.5h2M398.5 406v2M401.5 406v2M399 408.5h2M400 416.5h2M399.5 417v2M402.5 417v2M400 419.5h2M400 443.5h2M399.5 444v2M402.5 444v2M400 446.5h2M400 419.5h2M399.5 420v2M402.5 420v2M400 422.5h2M401 415.5h2M400.5 416v2M403.5 416v2M401 418.5h2M401 406.5h2M400.5 407v2M403.5 407v2M401 409.5h2M402 412.5h2M401.5 413v2M404.5 413v2M402 415.5h2M402 400.5h2M401.5 401v2M404.5 401v2M402 403.5h2M403 405.5h2M402.5 406v2M405.5 406v2M403 408.5h2M403 393.5h2M402.5 394v2M405.5 394v2M403 396.5h2M404 420.5h2M403.5 421v2M406.5 421v2M404 423.5h2M404 411.5h2M403.5 412v2M406.5 412v2M404 414.5h2M404 420.5h2M403.5 421v2M406.5 421v2M404 423.5h2M405 406.5h2M404.5 407v2M407.5 407v2M405 409.5h2M405 406.5h2M404.5 407v2M407.5 407v2M405 409.5h2M406 393.5h2M405.5 394v2M408.5 394v2M406 396.5h2M406 415.5h2M405.5 416v2M408.5 416v2M406 418.5h2M406 421.5h2M405.5 422v2M408.5 422v2M406 424.5h2M407 421.5h2M406.5 422v2M409.5 422v2M407 424.5h2M408 396.5h2M407.5 397v2M410.5 397v2M408 399.5h2M408 436.5h2M407.5 437v2M410.5 437v2M408 439.5h2M408 400.5h2M407.5 401v2M410.5 401v2M408 403.5h2M409 414.5h2M408.5 415v2M411.5 415v2M409 417.5h2M409 407.5h2M408.5 408v2M411.5 408v2M409 410.5h2M410 410.5h2M409.5 411v2M412.5 411v2M410 413.5h2M410 431.5h2M409.5 432v2M412.5 432v2M410 434.5h2M411 396.5h2M410.5 397v2M413.5 397v2M411 399.5h2M411 421.5h2M410.5 422v2M413.5 422v2M411 424.5h2M411 421.5h2M410.5 422v2M413.5 422v2M411 424.5h2M412 414.5h2M411.5 415v2M414.5 415v2M412 417.5h2M412 402.5h2M411.5 403v2M414.5 403v2M412 405.5h2M413 431.5h2M412.5 432v2M415.5 432v2M413 434.5h2M413 431.5h2M412.5 432v2M415.5 432v2M413 434.5h2M414 424.5h2M413.5 425v2M416.5 425v2M414 427.5h2M414 416.5h2M413.5 417v2M416.5 417v2M414 419.5h2M415 413.5h2M414.5 414v2M417.5 414v2M415 416.5h2M415 396.5h2M414.5 397v2M417.5 397v2M415 399.5h2M415 411.5h2M414.5 412v2M417.5 412v2M415 414.5h2M416 420.5h2M415.5 421v2M418.5 421v2M416 423.5h2M416 425.5h2M415.5 426v2M418.5 426v2M416 428.5h2M417 409.5h2M416.5 410v2M419.5 410v2M417 412.5h2M417 394.5h2M416.5 395v2M419.5 395v2M417 397.5h2M418 432.5h2M417.5 433v2M420.5 433v2M418 435.5h2M418 412.5h2M417.5 413v2M420.5 413v2M418 415.5h2M419 420.5h2M418.5 421v2M421.5 421v2M419 423.5h2M419 430.5h2M418.5 431v2M421.5 431v2M419 433.5h2M419 407.5h2M418.5 408v2M421.5 408v2M419 410.5h2M420 406.5h2M419.5 407v2M422.5 407v2M420 409.5h2M420 408.5h2M419.5 409v2M422.5 409v2M420 411.5h2M421 419.5h2M420.5 420v2M423.5 420v2M421 422.5h2M421 421.5h2M420.5 422v2M423.5 422v2M421 424.5h2M422 430.5h2M421.5 431v2M424.5 431v2M422 433.5h2M422 407.5h2M421.5 408v2M424.5 408v2M422 410.5h2M423 408.5h2M422.5 409v2M425.5 409v2M423 411.5h2M423 429.5h2M422.5 430v2M425.5 430v2M423 432.5h2M423 419.5h2M422.5 420v2M425.5 420v2M423 422.5h2M424 400.5h2M423.5 401v2M426.5 401v2M424 403.5h2M425 415.5h2M424.5 416v2M427.5 416v2M425 418.5h2M425 439.5h2M424.5 440v2M427.5 440v2M425 442.5h2M425 449.5h2M424.5 450v2M427.5 450v2M425 452.5h2M426 411.5h2M425.5 412v2M428.5 412v2M426 414.5h2M426 423.5h2M425.5 424v2M428.5 424v2M426 426.5h2M426 429.5h2M425.5 430v2M428.5 430v2M426 432.5h2M427 430.5h2M426.5 431v2M429.5 431v2M427 433.5h2M428 425.5h2M427.5 426v2M430.5 426v2M428 428.5h2M428 398.5h2M427.5 399v2M430.5 399v2M428 401.5h2M428 410.5h2M427.5 411v2M430.5 411v2M428 413.5h2M429 422.5h2M428.5 423v2M431.5 423v2M429 425.5h2M429 402.5h2M428.5 403v2M431.5 403v2M429 405.5h2M430 441.5h2M429.5 442v2M432.5 442v2M430 444.5h2M430 430.5h2M429.5 431v2M432.5 431v2M430 433.5h2M431 433.5h2M430.5 434v2M433.5 434v2M431 436.5h2M431 419.5h2M430.5 420v2M433.5 420v2M431 422.5h2M432 436.5h2M431.5 437v2M434.5 437v2M432 439.5h2M432 405.5h2M431.5 406v2M434.5 406v2M432 408.5h2M432 396.5h2M431.5 397v2M434.5 397v2M432 399.5h2M433 409.5h2M432.5 410v2M435.5 410v2M433 412.5h2M433 414.5h2M432.5 415v2M435.5 415v2M433 417.5h2M434 413.5h2M433.5 414v2M436.5 414v2M434 416.5h2M434 412.5h2M433.5 413v2M436.5 413v2M434 415.5h2M435 421.5h2M434.5 422v2M437.5 422v2M435 424.5h2M435 416.5h2M434.5 417v2M437.5 417v2M435 419.5h2M436 405.5h2M435.5 406v2M438.5 406v2M436 408.5h2M436 416.5h2M435.5 417v2M438.5 417v2M436 419.5h2M436 399.5h2M435.5 400v2M438.5 400v2M436 402.5h2M437 414.5h2M436.5 415v2M439.5 415v2M437 417.5h2M437 409.5h2M436.5 410v2M439.5 410v2M437 412.5h2M438 417.5h2M437.5 418v2M440.5 418v2M438 420.5h2M438 421.5h2M437.5 422v2M440.5 422v2M438 424.5h2M439 413.5h2M438.5 414v2M441.5 414v2M439 416.5h2M439 431.5h2M438.5 432v2M441.5 432v2M439 434.5h2M439 410.5h2M438.5 411v2M441.5 411v2M439 413.5h2M440 414.5h2M439.5 415v2M442.5 415v2M440 417.5h2M440 411.5h2M439.5 412v2M442.5 412v2M440 414.5h2M441 412.5h2M440.5 413v2M443.5 413v2M441 415.5h2M441 409.5h2M440.5 410v2M443.5 410v2M441 412.5h2M442 415.5h2M441.5 416v2M444.5 416v2M442 418.5h2M442 398.5h2M441.5 399v2M444.5 399v2M442 401.5h2M443 429.5h2M442.5 430v2M445.5 430v2M443 432.5h2M443 419.5h2M442.5 420v2M445.5 420v2M443 422.5h2M443 434.5h2M442.5 435v2M445.5 435v2M443 437.5h2M444 438.5h2M443.5 439v2M446.5 439v2M444 441.5h2M444 417.5h2M443.5 418v2M446.5 418v2M444 420.5h2M445 410.5h2M444.5 411v2M447.5 411v2M445 413.5h2M445 406.5h2M444.5 407v2M447.5 407v2M445 409.5h2M446 406.5h2M445.5 407v2M448.5 407v2M446 409.5h2M446 420.5h2M445.5 421v2M448.5 421v2M446 423.5h2M447 414.5h2M446.5 415v2M449.5 415v2M447 417.5h2M447 403.5h2M446.5 404v2M449.5 404v2M447 406.5h2M447 425.5h2M446.5 426v2M449.5 426v2M447 428.5h2M448 437.5h2M447.5 438v2M450.5 438v2M448 440.5h2M448 412.5h2M447.5 413v2M450.5 413v2M448 415.5h2M449 439.5h2M448.5 440v2M451.5 440v2M449 442.5h2M449 416.5h2M448.5 417v2M451.5 417v2M449 419.5h2M450 431.5h2M449.5 432v2M452.5 432v2M450 434.5h2M450 410.5h2M449.5 411v2M452.5 411v2M450 413.5h2M451 427.5h2M450.5 428v2M453.5 428v2M451 430.5h2M451 398.5h2M450.5 399v2M453.5 399v2M451 401.5h2M451 400.5h2M450.5 401v2M453.5 401v2M451 403.5h2M452 412.5h2M451.5 413v2M454.5 413v2M452 415.5h2M452 418.5h2M451.5 419v2M454.5 419v2M452 421.5h2M453 437.5h2M452.5 438v2M455.5 438v2M453 440.5h2M453 429.5h2M452.5 430v2M455.5 430v2M453 432.5h2M453 410.5h2M452.5 411v2M455.5 411v2M453 413.5h2M454 408.5h2M453.5 409v2M456.5 409v2M454 411.5h2M454 427.5h2M453.5 428v2M456.5 428v2M454 430.5h2M455 411.5h2M454.5 412v2M457.5 412v2M455 414.5h2M456 414.5h2M455.5 415v2M458.5 415v2M456 417.5h2M456 421.5h2M455.5 422v2M458.5 422v2M456 424.5h2M456 408.5h2M455.5 409v2M458.5 409v2M456 411.5h2M457 423.5h2M456.5 424v2M459.5 424v2M457 426.5h2M457 421.5h2M456.5 422v2M459.5 422v2M457 424.5h2M458 440.5h2M457.5 441v2M460.5 441v2M458 443.5h2M458 439.5h2M457.5 440v2M460.5 440v2M458 442.5h2M458 453.5h2M457.5 454v2M460.5 454v2M458 456.5h2M459 412.5h2M458.5 413v2M461.5 413v2M459 415.5h2M459 424.5h2M458.5 425v2M461.5 425v2M459 427.5h2M460 403.5h2M459.5 404v2M462.5 404v2M460 406.5h2M460 404.5h2M459.5 405v2M462.5 405v2M460 407.5h2M461 410.5h2M460.5 411v2M463.5 411v2M461 413.5h2M461 419.5h2M460.5 420v2M463.5 420v2M461 422.5h2M462 418.5h2M461.5 419v2M464.5 419v2M462 421.5h2M462 447.5h2M461.5 448v2M464.5 448v2M462 450.5h2M463 429.5h2M462.5 430v2M465.5 430v2M463 432.5h2M463 416.5h2M462.5 417v2M465.5 417v2M463 419.5h2M463 416.5h2M462.5 417v2M465.5 417v2M463 419.5h2M464 425.5h2M463.5 426v2M466.5 426v2M464 428.5h2M464 427.5h2M463.5 428v2M466.5 428v2M464 430.5h2M465 442.5h2M464.5 443v2M467.5 443v2M465 445.5h2M465 428.5h2M464.5 429v2M467.5 429v2M465 431.5h2M466 454.5h2M465.5 455v2M468.5 455v2M466 457.5h2M466 420.5h2M465.5 421v2M468.5 421v2M466 423.5h2M466 424.5h2M465.5 425v2M468.5 425v2M466 427.5h2M467 411.5h2M466.5 412v2M469.5 412v2M467 414.5h2M467 415.5h2M466.5 416v2M469.5 416v2M467 418.5h2M468 424.5h2M467.5 425v2M470.5 425v2M468 427.5h2M468 419.5h2M467.5 420v2M470.5 420v2M468 422.5h2M469 428.5h2M468.5 429v2M471.5 429v2M469 431.5h2M469 420.5h2M468.5 421v2M471.5 421v2M469 423.5h2M470 417.5h2M469.5 418v2M472.5 418v2M470 420.5h2M470 427.5h2M469.5 428v2M472.5 428v2M470 430.5h2M470 414.5h2M469.5 415v2M472.5 415v2M470 417.5h2M471 408.5h2M470.5 409v2M473.5 409v2M471 411.5h2M471 425.5h2M470.5 426v2M473.5 426v2M471 428.5h2M472 441.5h2M471.5 442v2M474.5 442v2M472 444.5h2M472 429.5h2M471.5 430v2M474.5 430v2M472 432.5h2M473 423.5h2M472.5 424v2M475.5 424v2M473 426.5h2M473 425.5h2M472.5 426v2M475.5 426v2M473 428.5h2M474 409.5h2M473.5 410v2M476.5 410v2M474 412.5h2M474 422.5h2M473.5 423v2M476.5 423v2M474 425.5h2M474 420.5h2M473.5 421v2M476.5 421v2M474 423.5h2M475 426.5h2M474.5 427v2M477.5 427v2M475 429.5h2M475 433.5h2M474.5 434v2M477.5 434v2M475 436.5h2M476 398.5h2M475.5 399v2M478.5 399v2M476 401.5h2M476 422.5h2M475.5 423v2M478.5 423v2M476 425.5h2M477 431.5h2M476.5 432v2M479.5 432v2M477 434.5h2M477 446.5h2M476.5 447v2M479.5 447v2M477 449.5h2M477 414.5h2M476.5 415v2M479.5 415v2M477 417.5h2M478 427.5h2M477.5 428v2M480.5 428v2M478 430.5h2M478 422.5h2M477.5 423v2M480.5 423v2M478 425.5h2M479 416.5h2M478.5 417v2M481.5 417v2M479 419.5h2M479 415.5h2M478.5 416v2M481.5 416v2M479 418.5h2M480 430.5h2M479.5 431v2M482.5 431v2M480 433.5h2M480 419.5h2M479.5 420v2M482.5 420v2M480 422.5h2M481 415.5h2M480.5 416v2M483.5 416v2M481 418.5h2M481 420.5h2M480.5 421v2M483.5 421v2M481 423.5h2M482 430.5h2M481.5 431v2M484.5 431v2M482 433.5h2M482 409.5h2M481.5 410v2M484.5 410v2M482 412.5h2M482 418.5h2M481.5 419v2M484.5 419v2M482 421.5h2M483 439.5h2M482.5 440v2M485.5 440v2M483 442.5h2M483 410.5h2M482.5 411v2M485.5 411v2M483 413.5h2M484 417.5h2M483.5 418v2M486.5 418v2M484 420.5h2M484 432.5h2M483.5 433v2M486.5 433v2M484 435.5h2M484 426.5h2M483.5 427v2M486.5 427v2M484 429.5h2M485 412.5h2M484.5 413v2M487.5 413v2M485 415.5h2M486 435.5h2M485.5 436v2M488.5 436v2M486 438.5h2M486 425.5h2M485.5 426v2M488.5 426v2M486 428.5h2M486 405.5h2M485.5 406v2M488.5 406v2M486 408.5h2M487 411.5h2M486.5 412v2M489.5 412v2M487 414.5h2M487 417.5h2M486.5 418v2M489.5 418v2M487 420.5h2M488 411.5h2M487.5 412v2M490.5 412v2M488 414.5h2M488 431.5h2M487.5 432v2M490.5 432v2M488 434.5h2M489 431.5h2M488.5 432v2M491.5 432v2M489 434.5h2M489 433.5h2M488.5 434v2M491.5 434v2M489 436.5h2M489 406.5h2M488.5 407v2M491.5 407v2M489 409.5h2M490 433.5h2M489.5 434v2M492.5 434v2M490 436.5h2M491 409.5h2M490.5 410v2M493.5 410v2M491 412.5h2M491 421.5h2M490.5 422v2M493.5 422v2M491 424.5h2M491 431.5h2M490.5 432v2M493.5 432v2M491 434.5h2M492 428.5h2M491.5 429v2M494.5 429v2M492 431.5h2M492 432.5h2M491.5 433v2M494.5 433v2M492 435.5h2M493 422.5h2M492.5 423v2M495.5 423v2M493 425.5h2M493 435.5h2M492.5 436v2M495.5 436v2M493 438.5h2M493 412.5h2M492.5 413v2M495.5 413v2M493 415.5h2M494 425.5h2M493.5 426v2M496.5 426v2M494 428.5h2M495 429.5h2M494.5 430v2M497.5 430v2M495 432.5h2M495 426.5h2M494.5 427v2M497.5 427v2M495 429.5h2M495 438.5h2M494.5 439v2M497.5 439v2M495 441.5h2M496 421.5h2M495.5 422v2M498.5 422v2M496 424.5h2M496 438.5h2M495.5 439v2M498.5 439v2M496 441.5h2M496 428.5h2M495.5 429v2M498.5 429v2M496 431.5h2M497 431.5h2M496.5 432v2M499.5 432v2M497 434.5h2M497 420.5h2M496.5 421v2M499.5 421v2M497 423.5h2M498 412.5h2M497.5 413v2M500.5 413v2M498 415.5h2M498 444.5h2M497.5 445v2M500.5 445v2M498 447.5h2M499 430.5h2M498.5 431v2M501.5 431v2M499 433.5h2M499 413.5h2M498.5 414v2M501.5 414v2M499 416.5h2M500 444.5h2M499.5 445v2M502.5 445v2M500 447.5h2M500 421.5h2M499.5 422v2M502.5 422v2M500 424.5h2M501 415.5h2M500.5 416v2M503.5 416v2M501 418.5h2M501 431.5h2M500.5 432v2M503.5 432v2M501 434.5h2M501 421.5h2M500.5 422v2M503.5 422v2M501 424.5h2M502 418.5h2M501.5 419v2M504.5 419v2M502 421.5h2M502 429.5h2M501.5 430v2M504.5 430v2M502 432.5h2M503 430.5h2M502.5 431v2M505.5 431v2M503 433.5h2M503 427.5h2M502.5 428v2M505.5 428v2M503 430.5h2M504 403.5h2M503.5 404v2M506.5 404v2M504 406.5h2M504 442.5h2M503.5 443v2M506.5 443v2M504 445.5h2M504 434.5h2M503.5 435v2M506.5 435v2M504 437.5h2M505 414.5h2M504.5 415v2M507.5 415v2M505 417.5h2M505 420.5h2M504.5 421v2M507.5 421v2M505 423.5h2M506 441.5h2M505.5 442v2M508.5 442v2M506 444.5h2M506 416.5h2M505.5 417v2M508.5 417v2M506 419.5h2M507 437.5h2M506.5 438v2M509.5 438v2M507 440.5h2M507 435.5h2M506.5 436v2M509.5 436v2M507 438.5h2M508 435.5h2M507.5 436v2M510.5 436v2M508 438.5h2M508 439.5h2M507.5 440v2M510.5 440v2M508 442.5h2M509 426.5h2M508.5 427v2M511.5 427v2M509 429.5h2M509 418.5h2M508.5 419v2M511.5 419v2M509 421.5h2M510 423.5h2M509.5 424v2M512.5 424v2M510 426.5h2M510 429.5h2M509.5 430v2M512.5 430v2M510 432.5h2M510 433.5h2M509.5 434v2M512.5 434v2M510 436.5h2M511 408.5h2M510.5 409v2M513.5 409v2M511 411.5h2M511 430.5h2M510.5 431v2M513.5 431v2M511 433.5h2M512 431.5h2M511.5 432v2M514.5 432v2M512 434.5h2M512 425.5h2M511.5 426v2M514.5 426v2M512 428.5h2M512 423.5h2M511.5 424v2M514.5 424v2M512 426.5h2M513 402.5h2M512.5 403v2M515.5 403v2M513 405.5h2M514 430.5h2M513.5 431v2M516.5 431v2M514 433.5h2M514 414.5h2M513.5 415v2M516.5 415v2M514 417.5h2M514 417.5h2M513.5 418v2M516.5 418v2M514 420.5h2M515 404.5h2M514.5 405v2M517.5 405v2M515 407.5h2M515 417.5h2M514.5 418v2M517.5 418v2M515 420.5h2M516 427.5h2M515.5 428v2M518.5 428v2M516 430.5h2M516 432.5h2M515.5 433v2M518.5 433v2M516 435.5h2M517 419.5h2M516.5 420v2M519.5 420v2M517 422.5h2M517 431.5h2M516.5 432v2M519.5 432v2M517 434.5h2M518 437.5h2M517.5 438v2M520.5 438v2M518 440.5h2M518 431.5h2M517.5 432v2M520.5 432v2M518 434.5h2M518 426.5h2M517.5 427v2M520.5 427v2M518 429.5h2M519 425.5h2M518.5 426v2M521.5 426v2M519 428.5h2M519 424.5h2M518.5 425v2M521.5 425v2M519 427.5h2M520 417.5h2M519.5 418v2M522.5 418v2M520 420.5h2M520 426.5h2M519.5 427v2M522.5 427v2M520 429.5h2M520 440.5h2M519.5 441v2M522.5 441v2M520 443.5h2M521 429.5h2M520.5 430v2M523.5 430v2M521 432.5h2M522 433.5h2M521.5 434v2M524.5 434v2M522 436.5h2M522 440.5h2M521.5 441v2M524.5 441v2M522 443.5h2M522 409.5h2M521.5 410v2M524.5 410v2M522 412.5h2M523 438.5h2M522.5 439v2M525.5 439v2M523 441.5h2M523 410.5h2M522.5 411v2M525.5 411v2M523 413.5h2M523 424.5h2M522.5 425v2M525.5 425v2M523 427.5h2M524 426.5h2M523.5 427v2M526.5 427v2M524 429.5h2M524 425.5h2M523.5 426v2M526.5 426v2M524 428.5h2M525 420.5h2M524.5 421v2M527.5 421v2M525 423.5h2M525 439.5h2M524.5 440v2M527.5 440v2M525 442.5h2M526 420.5h2M525.5 421v2M528.5 421v2M526 423.5h2M526 435.5h2M525.5 436v2M528.5 436v2M526 438.5h2M527 443.5h2M526.5 444v2M529.5 444v2M527 446.5h2M527 401.5h2M526.5 402v2M529.5 402v2M527 404.5h2M528 435.5h2M527.5 436v2M530.5 436v2M528 438.5h2M528 427.5h2M527.5 428v2M530.5 428v2M528 430.5h2M528 437.5h2M527.5 438v2M530.5 438v2M528 440.5h2M529 432.5h2M528.5 433v2M531.5 433v2M529 435.5h2M529 434.5h2M528.5 435v2M531.5 435v2M529 437.5h2M530 414.5h2M529.5 415v2M532.5 415v2M530 417.5h2M530 425.5h2M529.5 426v2M532.5 426v2M530 428.5h2M531 437.5h2M530.5 438v2M533.5 438v2M531 440.5h2M531 407.5h2M530.5 408v2M533.5 408v2M531 410.5h2M532 418.5h2M531.5 419v2M534.5 419v2M532 421.5h2M532 437.5h2M531.5 438v2M534.5 438v2M532 440.5h2M532 420.5h2M531.5 421v2M534.5 421v2M532 423.5h2M533 425.5h2M532.5 426v2M535.5 426v2M533 428.5h2M533 432.5h2M532.5 433v2M535.5 433v2M533 435.5h2M534 432.5h2M533.5 433v2M536.5 433v2M534 435.5h2M534 439.5h2M533.5 440v2M536.5 440v2M534 442.5h2M535 423.5h2M534.5 424v2M537.5 424v2M535 426.5h2M535 420.5h2M534.5 421v2M537.5 421v2M535 423.5h2M535 427.5h2M534.5 428v2M537.5 428v2M535 430.5h2M536 435.5h2M535.5 436v2M538.5 436v2M536 438.5h2M536 419.5h2M535.5 420v2M538.5 420v2M536 422.5h2M537 440.5h2M536.5 441v2M539.5 441v2M537 443.5h2M537 420.5h2M536.5 421v2M539.5 421v2M537 423.5h2M538 429.5h2M537.5 430v2M540.5 430v2M538 432.5h2"/><path d="M363 345.5H365M365 346.5H370M370 347.5H375M375 348.5H381M381 349.5H386M386 350.5H392M392 351.5H398M398 352.5H404M404 353.5H411M411 354.5H418M418 355.5H425M425 356.5H433M433 357.5H442M442 358.5H451M451 359.5H461M461 360.5H474M474 361.5H488M488 362.5H510M510 363.5H540" fill="none" stroke="#0000ff" stroke-width="1" shape-rendering="crispEdges"/><path d="M363 408.5H365M365 409.5H370M370 410.5H375M375 411.5H380M380 412.5H386M386 413.5H391M391 414.5H397M397 415.5H404M404 416.5H410M410 417.5H417M417 418.5H424M424 419.5H432M432 420.5H440M440 421.5H449M449 422.5H459M459 423.5H470M470 424.5H484M484 425.5H502M502 426.5H540" fill="none" stroke="#ff0000" stroke-width="1" shape-rendering="crispEdges"/></svg>
<svg class="ch" style="left:0;top:0" width="850" height="561" viewBox="0 0 850 561"><g shape-rendering="crispEdges"><line x1="645.5" y1="263" x2="645.5" y2="465" stroke="#c0c0e4" stroke-dasharray="3 3"/><line x1="690.5" y1="263" x2="690.5" y2="465" stroke="#c0c0e4" stroke-dasharray="3 3"/><line x1="735.5" y1="263" x2="735.5" y2="465" stroke="#c0c0e4" stroke-dasharray="3 3"/><line x1="780.5" y1="263" x2="780.5" y2="465" stroke="#c0c0e4" stroke-dasharray="3 3"/><line x1="826.5" y1="263" x2="826.5" y2="465" stroke="#c0c0e4" stroke-dasharray="3 3"/><line x1="645" y1="263.5" x2="827" y2="263.5" stroke="#c0c0e4" stroke-dasharray="3 3"/><line x1="645" y1="313.5" x2="827" y2="313.5" stroke="#c0c0e4" stroke-dasharray="3 3"/><line x1="645" y1="363.5" x2="827" y2="363.5" stroke="#c0c0e4" stroke-dasharray="3 3"/><line x1="645" y1="413.5" x2="827" y2="413.5" stroke="#c0c0e4" stroke-dasharray="3 3"/><line x1="645" y1="464.5" x2="827" y2="464.5" stroke="#c0c0e4" stroke-dasharray="3 3"/></g><g stroke="#000" fill="none" shape-rendering="crispEdges"><line x1="635.5" y1="263" x2="635.5" y2="465"/><line x1="625" y1="263.5" x2="636" y2="263.5"/><line x1="625" y1="363.5" x2="636" y2="363.5"/><line x1="625" y1="464.5" x2="636" y2="464.5"/><line x1="645" y1="474.5" x2="827" y2="474.5"/><line x1="645.5" y1="474" x2="645.5" y2="484"/><line x1="735.5" y1="474" x2="735.5" y2="484"/><line x1="826.5" y1="474" x2="826.5" y2="484"/></g><text x="0" y="0" font-size="12.5" text-anchor="end" transform="translate(628,280) scale(0.86,1)" fill="#000">57.0</text><text x="0" y="0" font-size="12.5" text-anchor="start" transform="translate(597.5,369) scale(0.86,1)" fill="#000">n</text><text x="0" y="0" font-size="12.5" text-anchor="end" transform="translate(628,456) scale(0.86,1)" fill="#000">0</text><text x="0" y="0" font-size="12.5" text-anchor="start" transform="translate(645.8,495) scale(0.86,1)" fill="#000">0</text><g fill="#000" shape-rendering="crispEdges"><rect x="811" y="486" width="1" height="9"/><rect x="809" y="487" width="2" height="1"/><rect x="817" y="486" width="1" height="9"/><rect x="815" y="487" width="2" height="1"/><rect x="821" y="486" width="5" height="1"/><rect x="825" y="487" width="1" height="1"/><rect x="824" y="488" width="1" height="2"/><rect x="823" y="490" width="1" height="2"/><rect x="822" y="492" width="1" height="3"/></g><text x="0" y="0" font-size="12.5" text-anchor="middle" transform="translate(735.5,500) scale(0.81,1)" fill="#000">Dur (ms)</text><g fill="#008080" shape-rendering="crispEdges"><rect x="655" y="450" width="3" height="14"/><rect x="659" y="436" width="4" height="28"/><rect x="664" y="446" width="3" height="18"/><rect x="668" y="457" width="4" height="7"/><rect x="673" y="457" width="3" height="7"/><rect x="677" y="453" width="4" height="11"/><rect x="682" y="460" width="3" height="4"/><rect x="686" y="429" width="4" height="35"/><rect x="691" y="446" width="3" height="18"/><rect x="695" y="379" width="4" height="85"/><rect x="700" y="281" width="3" height="183"/><rect x="704" y="263" width="4" height="201"/><rect x="709" y="291" width="3" height="173"/><rect x="713" y="270" width="4" height="194"/><rect x="718" y="309" width="3" height="155"/><rect x="722" y="330" width="4" height="134"/><rect x="727" y="393" width="3" height="71"/><rect x="731" y="436" width="4" height="28"/><rect x="736" y="453" width="3" height="11"/><rect x="740" y="457" width="4" height="7"/><rect x="745" y="460" width="3" height="4"/><rect x="821" y="459" width="4" height="5"/></g><rect x="654" y="263" width="1" height="201" fill="#ff0000" shape-rendering="crispEdges"/></svg>
</body></html>
